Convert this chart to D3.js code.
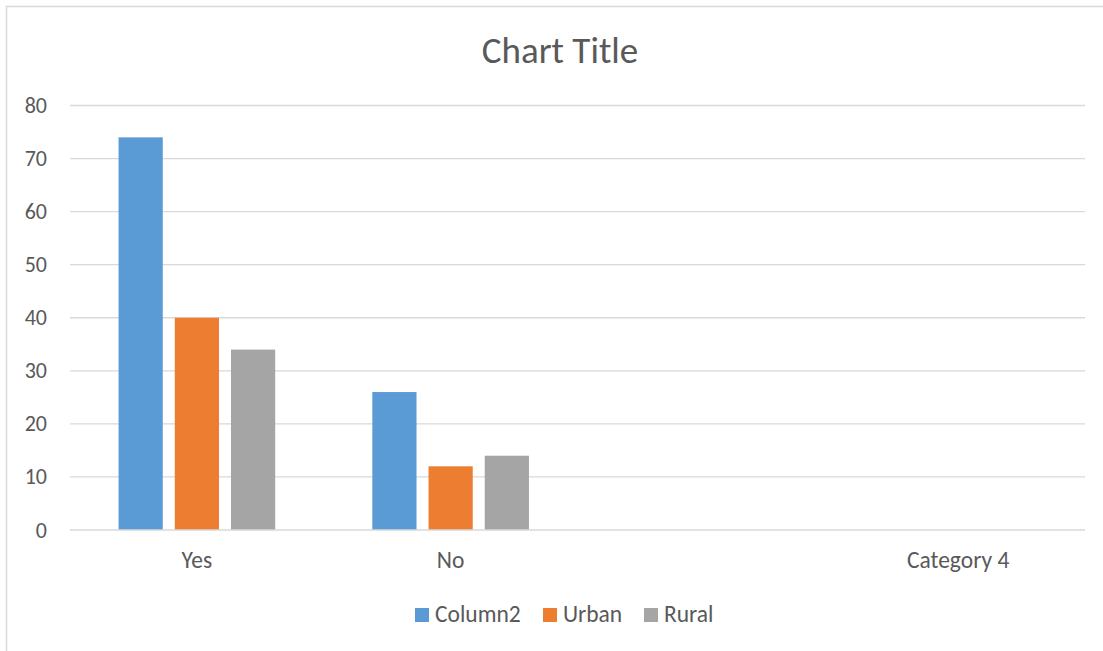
<!DOCTYPE html>
<html>
<head>
<meta charset="utf-8">
<script src="https://cdn.jsdelivr.net/npm/d3@7"></script>
<style>
  html, body { margin: 0; padding: 0; background: #fff; }
  svg { display: block; }
  text { font-family: Carlito, Calibri, Lato, "Open Sans", sans-serif; fill: #595959; }
</style>
</head>
<body>
<svg id="chart" width="1103" height="651"></svg>
<script>
const categories = ["Yes", "No", "", "Category 4"];
const seriesNames = ["Column2", "Urban", "Rural"];
const column2 = [74, 26, null, null];
const urban = [40, 12, null, null];
const rural = [34, 14, null, null];
const yTicks = [0, 10, 20, 30, 40, 50, 60, 70, 80];
const colors = ["#5B9BD5", "#ED7D31", "#A5A5A5"];
const chartTitle = "Chart Title";

const seriesValues = [column2, urban, rural];

const svg = d3.select("#chart");
const plot = { left: 70, right: 1085, top: 105.5, bottom: 530 };

// chart border
svg.append("rect")
  .attr("x", 6.5).attr("y", 6.5)
  .attr("width", 1200).attr("height", 800)
  .attr("fill", "#fff")
  .attr("stroke", "#D9D9D9").attr("stroke-width", 1.5);

const x = d3.scaleBand().domain(d3.range(categories.length)).range([plot.left, plot.right]).padding(0);
const xs = d3.scaleBand().domain(seriesNames).range([0, x.bandwidth()]).paddingInner(0.2135).paddingOuter(0.864);
const y = d3.scaleLinear().domain([0, 80]).range([plot.bottom, plot.top]);

// gridlines
svg.append("g").selectAll("line").data(yTicks.filter(d => d !== 0)).join("line")
  .attr("x1", plot.left).attr("x2", plot.right)
  .attr("y1", d => y(d)).attr("y2", d => y(d))
  .attr("stroke", "#D9D9D9").attr("stroke-width", 1.3);

// y labels
svg.append("g").selectAll("text").data(yTicks).join("text")
  .attr("x", 47).attr("y", d => y(d))
  .attr("text-anchor", "end").attr("dominant-baseline", "central")
  .attr("font-size", 22)
  .text(d => d);

// bars
const barData = [];
seriesNames.forEach((s, si) => {
  seriesValues[si].forEach((v, ci) => {
    if (v != null) barData.push({ s, si, ci, v });
  });
});
svg.append("g").selectAll("rect").data(barData).join("rect")
  .attr("x", d => x(d.ci) + xs(d.s))
  .attr("width", xs.bandwidth())
  .attr("y", d => y(d.v))
  .attr("height", d => y(0) - y(d.v))
  .attr("fill", d => colors[d.si]);

// x axis line
svg.append("line")
  .attr("x1", plot.left).attr("x2", plot.right)
  .attr("y1", y(0)).attr("y2", y(0))
  .attr("stroke", "#D9D9D9").attr("stroke-width", 1.5);

// x labels
svg.append("g").selectAll("text").data(categories).join("text")
  .attr("x", (d, i) => x(i) + x.bandwidth() / 2)
  .attr("y", 568)
  .attr("text-anchor", "middle")
  .attr("font-size", 23.5)
  .text(d => d);

// title
svg.append("text")
  .attr("x", 560).attr("y", 63)
  .attr("text-anchor", "middle")
  .attr("font-size", 37)
  .text(chartTitle);

// legend
const legendX = [415, 543, 644];
const lg = svg.append("g").selectAll("g").data(seriesNames).join("g")
  .attr("transform", (d, i) => `translate(${legendX[i]},608)`);
lg.append("rect").attr("width", 14).attr("height", 14).attr("fill", (d, i) => colors[i]);
lg.append("text").attr("x", 20).attr("y", 14).attr("font-size", 23.5).text(d => d);
</script>
</body>
</html>
